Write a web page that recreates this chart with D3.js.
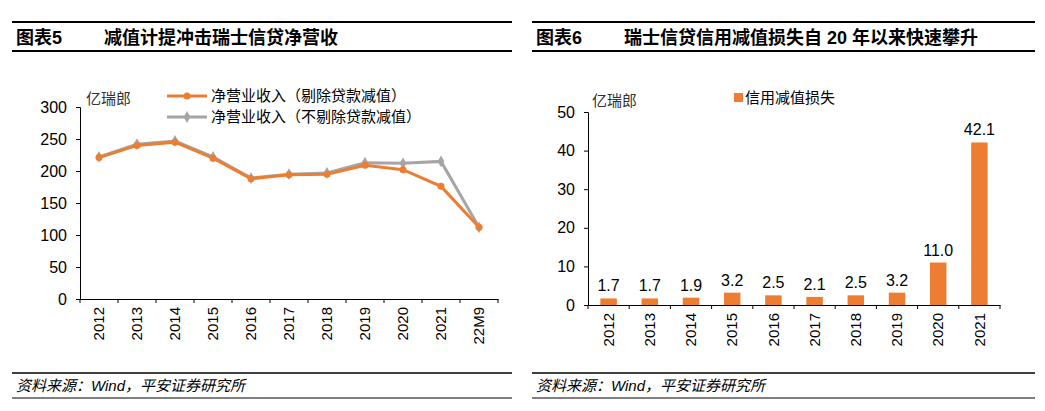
<!DOCTYPE html><html><head><meta charset="utf-8"><script src="https://cdn.jsdelivr.net/npm/d3@7"></script>
<style>body{margin:0;background:#fff}text{font-family:"Liberation Sans","Noto Sans CJK SC",sans-serif}</style></head><body>
<svg id="s" width="1045" height="411"></svg>
<script>
const years=["2012","2013","2014","2015","2016","2017","2018","2019","2020","2021","22M9"];
const netEx=[221,240,245,220,188,194,195,209,202,176,112];
const netIn=[222,242,247,222,189,195,197,213,212,215,112];
const barYears=["2012","2013","2014","2015","2016","2017","2018","2019","2020","2021"];
const loss=[1.7,1.7,1.9,3.2,2.5,2.1,2.5,3.2,11.0,42.1];
const yTicksL=[0,50,100,150,200,250,300], yTicksR=[0,10,20,30,40,50];
const svg=d3.select("#s");
function frame(x0,x1,title,sub){
 svg.append("line").attr("x1",x0).attr("x2",x1).attr("y1",22).attr("y2",22).attr("stroke","#000").attr("stroke-width",2);
 svg.append("line").attr("x1",x0).attr("x2",x1).attr("y1",51).attr("y2",51).attr("stroke","#000").attr("stroke-width",2);
 svg.append("text").attr("x",x0+4).attr("y",44).attr("font-size",18).attr("font-weight","bold").text(title);
 svg.append("text").attr("x",x0+92).attr("y",44).attr("font-size",18).attr("font-weight","bold").text(sub);
 svg.append("line").attr("x1",x0).attr("x2",x1).attr("y1",373).attr("y2",373).attr("stroke","#000").attr("stroke-width",1.5);
 svg.append("line").attr("x1",x0).attr("x2",x1).attr("y1",398).attr("y2",398).attr("stroke","#000").attr("stroke-width",1);
 svg.append("text").attr("x",x0+4).attr("y",391).attr("font-size",15).attr("font-style","italic").text("资料来源：Wind，平安证券研究所");
}
frame(12,512,"图表5","减值计提冲击瑞士信贷净营收");
frame(532,1035,"图表6","瑞士信贷信用减值损失自 20 年以来快速攀升");
function axes(g,x,y,ticks){
 const ya=g.append("g").attr("transform",`translate(${x.range()[0]},0)`).call(d3.axisLeft(y).tickValues(ticks).tickSize(4).tickSizeOuter(4));
 ya.selectAll("text").attr("font-size",16).attr("fill","#000").attr("dx",-6);
 const xa=g.append("g").attr("transform",`translate(0,${y(0)})`).call(d3.axisBottom(x).tickSize(0).tickSizeOuter(0));
 xa.selectAll("text").attr("font-size",15).attr("fill","#000").attr("transform","rotate(-90)").attr("text-anchor","end").attr("dx",-8).attr("dy","0.35em").attr("x",0).attr("y",0);
 const st=x.step(), r=x.range();
 for(let i=0;i<=x.domain().length;i++){const px=r[0]+i*st;g.append("line").attr("x1",px).attr("x2",px).attr("y1",y(0)).attr("y2",y(0)+4).attr("stroke","#000");}
 g.selectAll(".domain").attr("stroke","#000");
}
const xL=d3.scaleBand().domain(years).range([80,498]);
const yL=d3.scaleLinear().domain([0,300]).range([299,107]);
axes(svg.append("g"),xL,yL,yTicksL);
svg.append("text").attr("x",86).attr("y",104).attr("font-size",15).attr("fill","#333").text("亿瑞郎");
const cx=d=>xL(d)+xL.bandwidth()/2;
const line=d3.line().x((d,i)=>cx(years[i])).y(d=>yL(d));
svg.append("path").datum(netIn).attr("d",line).attr("fill","none").attr("stroke","#a5a5a5").attr("stroke-width",3);
svg.selectAll(".gi").data(netIn).join("path").attr("d",d3.symbol(d3.symbolDiamond,40)).attr("transform",(d,i)=>`translate(${cx(years[i])},${yL(d)})`).attr("fill","#a5a5a5");
svg.append("path").datum(netEx).attr("d",line).attr("fill","none").attr("stroke","#ed7d31").attr("stroke-width",3);
svg.selectAll(".oi").data(netEx).join("circle").attr("cx",(d,i)=>cx(years[i])).attr("cy",d=>yL(d)).attr("r",3.5).attr("fill","#ed7d31");
[["净营业收入（剔除贷款减值）","#ed7d31",96],["净营业收入（不剔除贷款减值）","#a5a5a5",117]].forEach(([t,c,y],k)=>{
 svg.append("line").attr("x1",167).attr("x2",207).attr("y1",y).attr("y2",y).attr("stroke",c).attr("stroke-width",3);
 if(k==0) svg.append("circle").attr("cx",187).attr("cy",y).attr("r",3.5).attr("fill",c);
 else svg.append("path").attr("d",d3.symbol(d3.symbolDiamond,40)).attr("transform",`translate(187,${y})`).attr("fill",c);
 svg.append("text").attr("x",211).attr("y",y+5).attr("font-size",15).attr("fill","#000").text(t);
});
const xR=d3.scaleBand().domain(barYears).range([588,1000]);
const yR=d3.scaleLinear().domain([0,50]).range([305,112]);
axes(svg.append("g"),xR,yR,yTicksR);
svg.append("text").attr("x",592).attr("y",106).attr("font-size",15).attr("fill","#333").text("亿瑞郎");
const bw=xR.bandwidth()*0.4;
svg.selectAll(".b").data(loss).join("rect").attr("x",(d,i)=>xR(barYears[i])+(xR.bandwidth()-bw)/2).attr("width",bw).attr("y",d=>yR(d)).attr("height",d=>yR(0)-yR(d)).attr("fill","#ed7d31");
svg.selectAll(".bl").data(loss).join("text").attr("x",(d,i)=>xR(barYears[i])+xR.bandwidth()/2).attr("y",d=>yR(d)-7).attr("text-anchor","middle").attr("font-size",16).text(d=>d.toFixed(1));
svg.append("rect").attr("x",734).attr("y",93).attr("width",9).attr("height",9).attr("fill","#ed7d31");
svg.append("text").attr("x",745).attr("y",103).attr("font-size",15).text("信用减值损失");
</script></body></html>
